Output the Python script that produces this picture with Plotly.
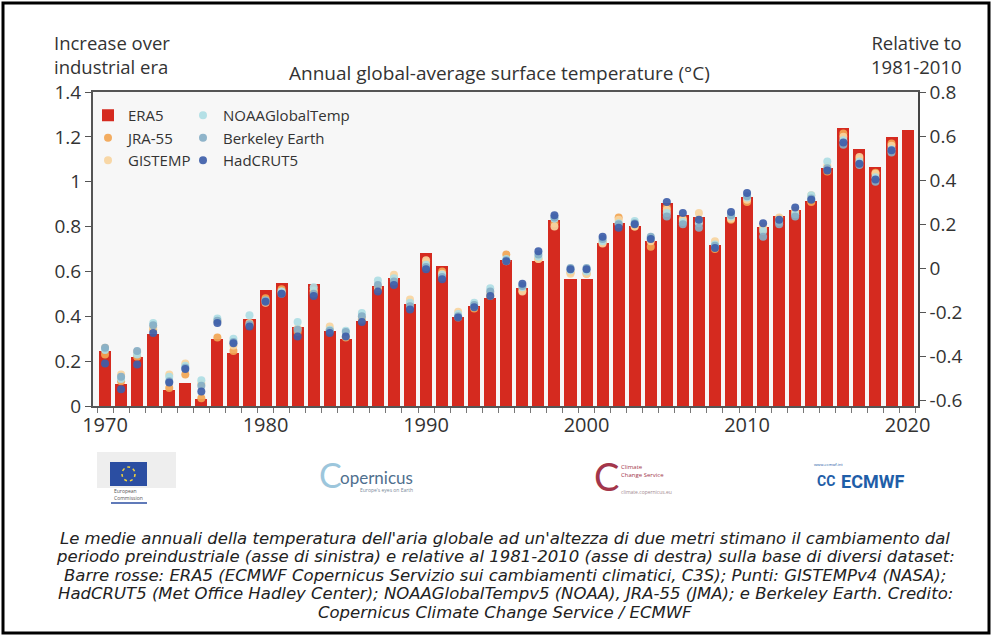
import plotly.graph_objects as go

years = list(range(1970, 2021))

era5 = [0.245, 0.097, 0.22, 0.32, 0.071, 0.101, 0.030, 0.30, 0.238, 0.388,
        0.516, 0.548, 0.354, 0.543, 0.336, 0.297, 0.380, 0.535, 0.569, 0.453,
        0.681, 0.624, 0.398, 0.446, 0.480, 0.651, 0.525, 0.648, 0.829, 0.568,
        0.565, 0.728, 0.814, 0.802, 0.737, 0.904, 0.852, 0.844, 0.718, 0.844,
        0.933, 0.800, 0.847, 0.874, 0.915, 1.060, 1.238, 1.144, 1.067, 1.201,
        1.230]

jra55 = [0.23, 0.11, 0.22, 0.34, 0.08, 0.14, 0.035, 0.305, 0.245, 0.36,
         0.48, 0.52, 0.33, 0.51, 0.34, 0.305, 0.385, 0.52, 0.565, 0.45,
         0.64, 0.60, 0.395, 0.435, 0.49, 0.675, 0.515, 0.655, 0.815, 0.595,
         0.59, 0.73, 0.84, 0.80, 0.71, 0.885, 0.835, 0.83, 0.70, 0.83,
         0.91, 0.79, 0.835, 0.865, 0.91, 1.045, 1.215, 1.10, 1.04, 1.17,
         None]

gistemp = [0.26, 0.14, 0.24, 0.35, 0.14, 0.19, 0.10, 0.38, 0.27, 0.37,
           0.46, 0.51, 0.345, 0.515, 0.355, 0.31, 0.39, 0.53, 0.585, 0.475,
           0.65, 0.59, 0.42, 0.44, 0.50, 0.645, 0.51, 0.655, 0.80, 0.59,
           0.59, 0.725, 0.83, 0.80, 0.735, 0.875, 0.83, 0.86, 0.735, 0.835,
           0.92, 0.80, 0.84, 0.87, 0.94, 1.07, 1.20, 1.11, 1.035, 1.16,
           None]

noaa = [0.25, 0.12, 0.23, 0.37, 0.13, 0.18, 0.115, 0.39, 0.30, 0.405,
        0.47, 0.51, 0.375, 0.53, 0.34, 0.335, 0.415, 0.56, 0.57, 0.46,
        0.63, 0.585, 0.41, 0.46, 0.525, 0.655, 0.53, 0.665, 0.835, 0.605,
        0.60, 0.735, 0.815, 0.825, 0.75, 0.86, 0.82, 0.815, 0.72, 0.845,
        0.93, 0.78, 0.82, 0.855, 0.94, 1.09, 1.185, 1.09, 1.02, 1.145,
        None]

berkeley = [0.26, 0.13, 0.245, 0.36, 0.11, 0.17, 0.09, 0.38, 0.285, 0.365,
            0.47, 0.50, 0.34, 0.50, 0.335, 0.33, 0.40, 0.54, 0.555, 0.445,
            0.62, 0.575, 0.40, 0.45, 0.51, 0.65, 0.535, 0.675, 0.84, 0.615,
            0.615, 0.745, 0.81, 0.815, 0.755, 0.845, 0.81, 0.795, 0.715, 0.85,
            0.935, 0.755, 0.81, 0.845, 0.925, 1.06, 1.165, 1.075, 1.00, 1.13,
            None]

hadcrut5 = [0.19, 0.075, 0.185, 0.325, 0.105, 0.165, 0.065, 0.37, 0.28, 0.355,
            0.465, 0.50, 0.31, 0.49, 0.325, 0.31, 0.375, 0.51, 0.54, 0.43,
            0.61, 0.565, 0.395, 0.44, 0.49, 0.645, 0.545, 0.69, 0.85, 0.61,
            0.61, 0.755, 0.795, 0.81, 0.745, 0.91, 0.86, 0.83, 0.705, 0.865,
            0.95, 0.815, 0.83, 0.885, 0.92, 1.05, 1.175, 1.08, 1.01, 1.14,
            None]

left_ticks = [0, 0.2, 0.4, 0.6, 0.8, 1.0, 1.2, 1.4]
left_labels = ["0", "0.2", "0.4", "0.6", "0.8", "1", "1.2", "1.4"]
right_ticks = [-0.6, -0.4, -0.2, 0, 0.2, 0.4, 0.6, 0.8]
right_labels = ["-0.6", "-0.4", "-0.2", "0", "0.2", "0.4", "0.6", "0.8"]
x_ticks = [1970, 1980, 1990, 2000, 2010, 2020]

caption_lines = [
    "Le medie annuali della temperatura dell'aria globale ad un'altezza di due metri stimano il cambiamento dal",
    "periodo preindustriale (asse di sinistra) e relative al 1981-2010 (asse di destra) sulla base di diversi dataset:",
    "Barre rosse: ERA5 (ECMWF Copernicus Servizio sui cambiamenti climatici, C3S); Punti: GISTEMPv4 (NASA);",
    "HadCRUT5 (Met Office Hadley Center); NOAAGlobalTempv5 (NOAA), JRA-55 (JMA); e Berkeley Earth. Credito:",
    "Copernicus Climate Change Service / ECMWF",
]

W, H = 992, 636
L, R, T, B = 93, 918, 92, 406


def px(xp):
    return (xp - L) / (R - L)


def py(yp):
    return (B - yp) / (B - T)


FONT = "Open Sans"
TXT = "#333333"

fig = go.Figure()

fig.add_trace(go.Bar(x=years, y=era5, name="ERA5", width=0.75,
                     marker=dict(color="#d52a1f", line=dict(width=0)),
                     legend="legend"))

dot_series = [
    ("JRA-55", jra55, "#f2a553", "legend"),
    ("GISTEMP", gistemp, "#f7d49e", "legend"),
    ("NOAAGlobalTemp", noaa, "#aedde4", "legend2"),
    ("Berkeley Earth", berkeley, "#86aec6", "legend2"),
    ("HadCRUT5", hadcrut5, "#3e5ea9", "legend2"),
]
for name, vals, col, lg in dot_series:
    fig.add_trace(go.Scatter(x=years, y=vals, name=name, mode="markers",
                             marker=dict(color=col, size=8, opacity=0.92,
                                         line=dict(width=0)),
                             legend=lg))

# invisible trace to attach right axis
fig.add_trace(go.Scatter(x=[], y=[], yaxis="y2", showlegend=False))

fig.update_layout(
    width=W, height=H,
    margin=dict(l=L, r=W - R, t=T, b=H - B),
    paper_bgcolor="white",
    plot_bgcolor="#f7f7f7",
    font=dict(family=FONT, color=TXT),
    bargap=0,
    xaxis=dict(range=[1969.25, 2020.65], tickvals=x_ticks,
               ticktext=[str(v) for v in x_ticks], ticks="", showgrid=False,
               zeroline=False, showline=True, linecolor="#555555", linewidth=1.5,
               mirror=True, tickfont=dict(size=20, color=TXT),
               minor=dict(tick0=1969.5, dtick=1, ticks="outside", ticklen=5,
                          tickcolor="#777777", showgrid=False)),
    yaxis=dict(range=[0, 1.4], tickvals=left_ticks, ticktext=left_labels,
               ticks="outside", ticklen=6, tickcolor="#555555", showgrid=False,
               zeroline=False, showline=True, linecolor="#555555", linewidth=2,
               tickfont=dict(size=19, color=TXT)),
    yaxis2=dict(range=[-0.624, 0.803], overlaying="y", side="right",
                tickvals=right_ticks, ticktext=right_labels, ticks="outside",
                ticklen=6, tickcolor="#555555", showgrid=False, zeroline=False,
                showline=True, linecolor="#444444", linewidth=1.5,
                tickfont=dict(size=19, color=TXT)),
    legend=dict(x=px(88), y=py(99), xanchor="left", yanchor="top",
                bgcolor="rgba(0,0,0,0)", font=dict(size=15, color=TXT),
                tracegroupgap=0),
    legend2=dict(x=px(183), y=py(99), xanchor="left", yanchor="top",
                 bgcolor="rgba(0,0,0,0)", font=dict(size=15, color=TXT),
                 tracegroupgap=0),
    showlegend=True,
)

ann = []
ann.append(dict(text="Annual global-average surface temperature (°C)",
                x=px(499), y=py(73), xref="paper", yref="paper",
                xanchor="center", yanchor="middle",
                showarrow=False, font=dict(size=19, color=TXT)))
ann.append(dict(text="Increase over<br>industrial era", x=px(52), y=py(55),
                xref="paper", yref="paper", xanchor="left", yanchor="middle",
                align="left", showarrow=False, font=dict(size=18.5, color=TXT)))
ann.append(dict(text="Relative to<br>1981-2010", x=px(964), y=py(55),
                xref="paper", yref="paper", xanchor="right", yanchor="middle",
                align="right", showarrow=False, font=dict(size=18.5, color=TXT)))
cap_y = [538, 556.5, 575, 593.5, 612]
for line, yy in zip(caption_lines, cap_y):
    ann.append(dict(text="<i>" + line + "</i>",
                    x=px(505), y=py(yy), xref="paper", yref="paper",
                    xanchor="center", yanchor="middle", align="center",
                    showarrow=False,
                    font=dict(size=16.5, color="#222222", family="DejaVu Sans")))

# logos (approximate, text-based)
ann.append(dict(text="European<br>Commission", x=px(112), y=py(494),
                xref="paper", yref="paper", xanchor="left", yanchor="middle",
                align="left", showarrow=False,
                font=dict(size=5, color="#555555")))
ann.append(dict(text="C", x=px(330), y=py(474), xref="paper", yref="paper",
                xanchor="center", yanchor="middle",
                showarrow=False, font=dict(size=34, color="#9cc6dc", family="Lato")))
ann.append(dict(text="opernicus", x=px(376), y=py(477), xref="paper", yref="paper",
                xanchor="center", yanchor="middle",
                showarrow=False, font=dict(size=17, color="#4f6f8e", family="Lato")))
ann.append(dict(text="Europe's eyes on Earth", x=px(386), y=py(490), xref="paper",
                yref="paper", xanchor="center", yanchor="middle", showarrow=False,
                font=dict(size=5, color="#7a8a9a")))
ann.append(dict(text="C", x=px(606), y=py(476), xref="paper", yref="paper",
                xanchor="center", yanchor="middle",
                showarrow=False, font=dict(size=38, color="#a3364b", family="Lato")))
ann.append(dict(text="Climate<br>Change Service", x=px(619), y=py(471),
                xref="paper", yref="paper", xanchor="left", yanchor="middle",
                align="left", showarrow=False, font=dict(size=6, color="#a3364b")))
ann.append(dict(text="climate.copernicus.eu", x=px(619), y=py(492),
                xref="paper", yref="paper", xanchor="left", yanchor="middle",
                showarrow=False, font=dict(size=5, color="#a38a90")))
ann.append(dict(text="<b>CC</b>", x=px(826), y=py(481), xref="paper", yref="paper",
                xanchor="center", yanchor="middle",
                showarrow=False, font=dict(size=14, color="#1f5ea8", family="Roboto")))
ann.append(dict(text="<b>ECMWF</b>", x=px(839), y=py(481), xref="paper", yref="paper",
                xanchor="left", yanchor="middle",
                showarrow=False, font=dict(size=18, color="#1f5ea8", family="Roboto")))
ann.append(dict(text="www.ecmwf.int", x=px(812), y=py(464), xref="paper",
                yref="paper", xanchor="left", yanchor="middle", showarrow=False,
                font=dict(size=4, color="#1f5ea8")))

shapes = []
# EU building + flag
shapes.append(dict(type="rect", xref="paper", yref="paper", x0=px(97), x1=px(176),
                   y0=py(488), y1=py(452), line=dict(width=0), fillcolor="#eeeeee",
                   layer="below"))
shapes.append(dict(type="rect", xref="paper", yref="paper", x0=px(110), x1=px(147),
                   y0=py(486), y1=py(462), line=dict(width=0), fillcolor="#2b4ea2"))
shapes.append(dict(type="circle", xref="paper", yref="paper", x0=px(122), x1=px(135),
                   y0=py(481), y1=py(467), line=dict(color="#f3d43b", width=1.5, dash="dot")))
shapes.append(dict(type="line", xref="paper", yref="paper", x0=px(111), x1=px(147),
                   y0=py(503), y1=py(503), line=dict(color="#2b4ea2", width=1.5)))
# outer frame
shapes.append(dict(type="rect", xref="paper", yref="paper", x0=px(3), x1=px(989),
                   y0=py(633), y1=py(3), line=dict(color="black", width=3)))

fig.update_layout(annotations=ann, shapes=shapes)

fig.write_html("out.html", config={"displayModeBar": False},
               post_script="document.body.style.margin='0';document.body.style.overflow='hidden';")
